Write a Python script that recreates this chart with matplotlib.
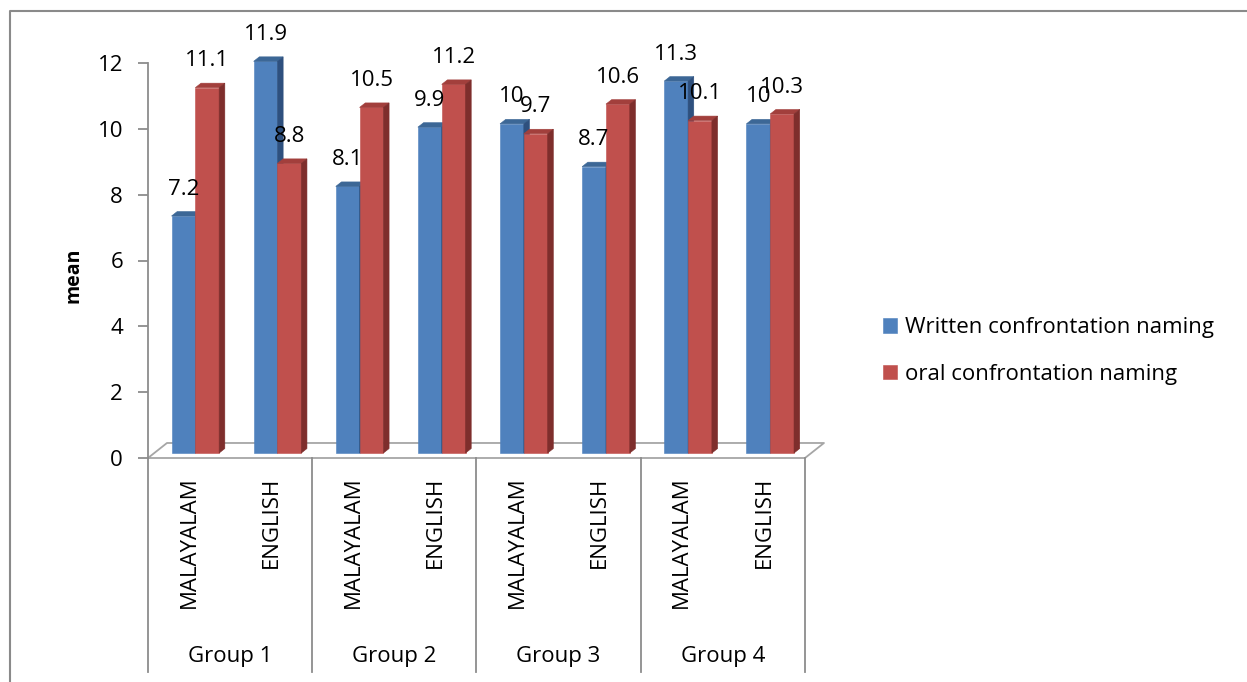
import matplotlib.pyplot as plt
from matplotlib.patches import Polygon
from matplotlib.lines import Line2D
import numpy as np

plt.rcParams["font.family"] = ["Open Sans", "DejaVu Sans"]

# data
groups = ["Group 1", "Group 2", "Group 3", "Group 4"]
languages = ["MALAYALAM", "ENGLISH"]
written = [7.2, 11.9, 8.1, 9.9, 10, 8.7, 11.3, 10]
oral = [11.1, 8.8, 10.5, 11.2, 9.7, 10.6, 10.1, 10.3]
series_names = ["Written confrontation naming", "oral confrontation naming"]
yticks = [0, 2, 4, 6, 8, 10, 12]

# look
front_cols = ["#4F81BD", "#C0504D"]
top_cols = ["#3C6796", "#A23F3C"]
side_cols = ["#2E507E", "#7E2E2C"]
grey = "#8C8C8C"
FS = 16

# fake 3d: floor depth in data units, bars sit between F_FRONT and F_BACK
DX, DY = 0.231, 0.456
F_FRONT, F_BACK = 0.33, 0.63
BW = 0.29

W, H = 1247, 682
fig = plt.figure(figsize=(W / 100, H / 100), dpi=100)
ax = fig.add_axes([148 / W, (H - 458) / H, 657 / W, 395 / H])
ax.set_xlim(0, 8)
ax.set_ylim(0, 12)
for s in ["top", "right", "bottom"]:
    ax.spines[s].set_visible(False)
ax.spines["left"].set_color(grey)
ax.spines["left"].set_linewidth(1.3)
ax.set_xticks([])
ax.set_yticks(yticks)
ax.tick_params(axis="y", direction="out", length=7, width=1.3, color=grey,
               pad=11, labelsize=FS)

# floor
fx = [0, 8, 8 + DX, DX, 0]
fy = [0, 0, DY, DY, 0]
ax.plot(fx, fy, color="#A6A6A6", lw=1.3, clip_on=False, zorder=1)

n = len(written)
x = np.arange(n)
ox, oy = F_FRONT * DX, F_FRONT * DY
ddx, ddy = (F_BACK - F_FRONT) * DX, (F_BACK - F_FRONT) * DY

handles = []
z = 2
for i in range(n):
    for k, vals in enumerate([written, oral]):
        v = vals[i]
        left = x[i] + 0.5 - BW + k * BW + ox
        b = ax.bar(left, v, width=BW, bottom=oy, align="edge", color=front_cols[k],
                   edgecolor=front_cols[k], lw=0.4, zorder=z, clip_on=False)
        if i == 0:
            handles.append(b)
        top = v + oy
        ax.add_patch(Polygon([(left, top), (left + BW, top), (left + BW + ddx, top + ddy),
                              (left + ddx, top + ddy)], closed=True, fc=top_cols[k],
                             ec=top_cols[k], lw=0.4, zorder=z, clip_on=False))
        ax.add_patch(Polygon([(left + BW, oy), (left + BW + ddx, oy + ddy),
                              (left + BW + ddx, top + ddy), (left + BW, top)], closed=True,
                             fc=side_cols[k], ec=side_cols[k], lw=0.4, zorder=z,
                             clip_on=False))
        ax.text(left + BW / 2, top + 0.82, f"{v:g}", ha="center", va="center",
                fontsize=FS, zorder=20, clip_on=False)
        z += 1

# category table below the floor
ybot = (458 - 672) / 32.9
for g in range(len(groups) + 1):
    ax.plot([2 * g, 2 * g], [0, ybot], color=grey, lw=1.3, clip_on=False)
for i in range(n):
    ax.text(x[i] + 0.5, -0.56, languages[i % 2], rotation=90, ha="center", va="top",
            fontsize=FS, clip_on=False)
for g, name in enumerate(groups):
    ax.text(2 * g + 1, (458 - 656) / 32.9, name, ha="center", va="center",
            fontsize=FS, clip_on=False)

fig.text(73 / W, 1 - 275 / H, "mean", rotation=90, ha="center", va="center",
         fontsize=14, fontweight="bold")

fig.legend(handles, series_names, loc="center left",
           bbox_to_anchor=(863 / W, 1 - 351 / H), frameon=False, fontsize=FS,
           handlelength=0.65, handleheight=0.65, handletextpad=0.35, labelspacing=1.15)

# outer chart frame (left and top edges visible)
fig.add_artist(Line2D([10 / W, 10 / W, 1], [0, 1 - 11 / H, 1 - 11 / H],
                      transform=fig.transFigure, color="#8A8A8A", lw=1.5))

fig.savefig("out.png", dpi=100)
